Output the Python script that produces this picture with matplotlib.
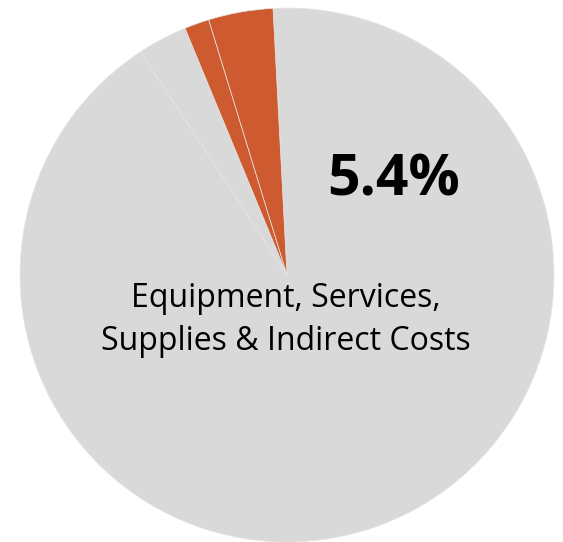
import matplotlib.pyplot as plt

# slice shares (percent), clockwise from just left of the top
shares = [91.5, 3.0, 1.5, 3.9]
colors = ['#D9D9D9', '#D9D9D9', '#CD5B2F', '#CD5B2F']
highlight = '5.4%'
label = 'Equipment, Services,\nSupplies & Indirect Costs'

W, H = 563, 542
fig = plt.figure(figsize=(W / 100, H / 100), dpi=100)
ax = fig.add_axes([0, 0, 1, 1])

ax.pie(shares, colors=colors, startangle=93, counterclock=False,
       center=(287, H - 275), radius=267, frame=True,
       wedgeprops=dict(edgecolor='#E6E6E6', linewidth=0.5))
ax.set_xlim(0, W)
ax.set_ylim(0, H)
ax.set_aspect('equal')
ax.axis('off')

ax.text(394, H - 180, highlight, ha='center', va='center',
        fontsize=41, fontweight='bold', family='Open Sans', color='black')
ax.text(286, H - 320, label, ha='center', va='center',
        fontsize=23, family='Open Sans', color='black', linespacing=1.42)

fig.savefig('out.png', dpi=100)
